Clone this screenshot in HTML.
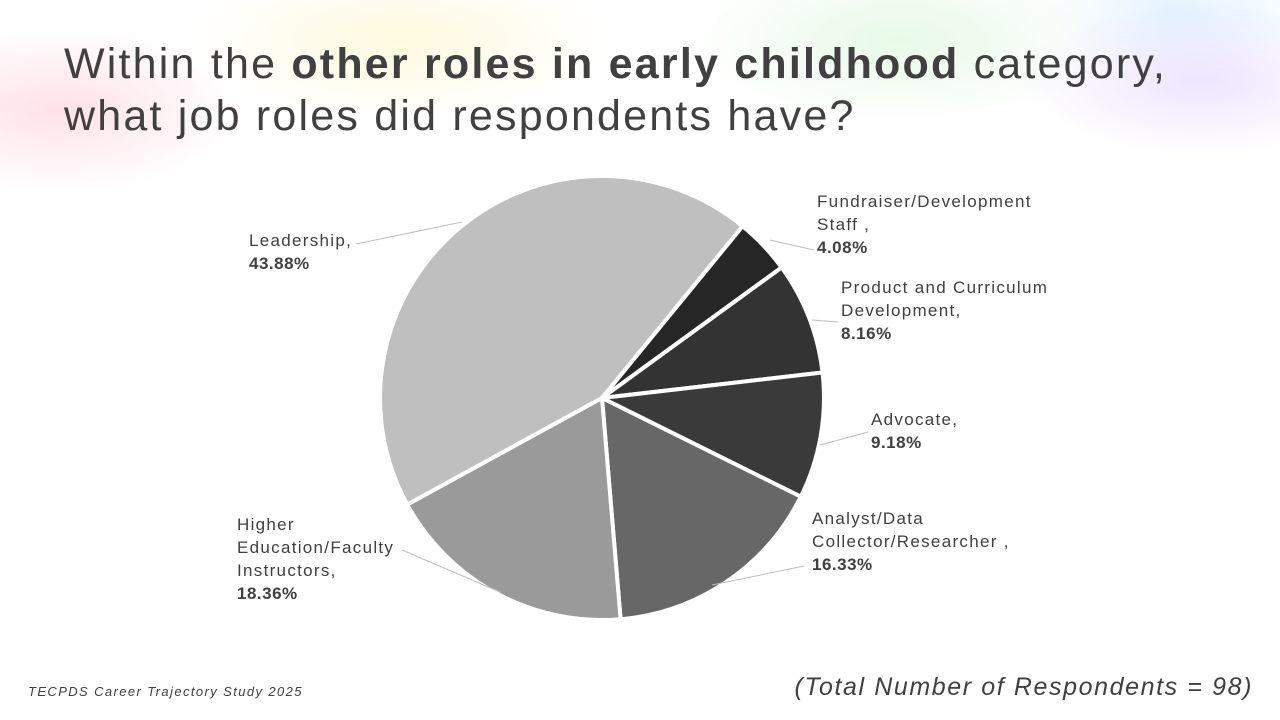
<!DOCTYPE html>
<html><head><meta charset="utf-8"><style>
html,body{margin:0;padding:0}
body{width:1280px;height:720px;position:relative;overflow:hidden;background:#fff;font-family:"Liberation Sans",sans-serif;color:#404040}
.bg{position:absolute;inset:0;background:
radial-gradient(ellipse 260px 120px at 60px 110px,rgba(255,200,215,.55),transparent 70%),
radial-gradient(ellipse 300px 110px at 400px 40px,rgba(255,245,200,.6),transparent 70%),
radial-gradient(ellipse 300px 120px at 900px 40px,rgba(215,245,215,.6),transparent 70%),
radial-gradient(ellipse 260px 110px at 1200px 80px,rgba(225,210,255,.6),transparent 70%),
radial-gradient(ellipse 200px 90px at 1180px 10px,rgba(200,230,255,.5),transparent 70%)}
h1{position:absolute;left:64px;top:38px;margin:0;font-size:43px;font-weight:normal;line-height:52px;color:#404040;letter-spacing:2.2px;white-space:nowrap}
.l{position:absolute;font-size:17px;line-height:23px;color:#404040;letter-spacing:1.3px;white-space:nowrap}
.l b{font-weight:bold;letter-spacing:0.5px}
</style></head><body><div class="bg"></div>
<h1>Within the <b>other roles in early childhood</b> category,<br>what job roles did respondents have?</h1>
<svg width="1280" height="720" style="position:absolute;left:0;top:0">
<g stroke="#fff" stroke-width="4" stroke-linejoin="round">
<path d="M602 398 L407.3 504.6 A222 222 0 0 1 742.6 226.2Z" fill="#bfbfbf"/>
<path d="M602 398 L742.6 226.2 A222 222 0 0 1 781.6 267.5Z" fill="#262626"/>
<path d="M602 398 L781.6 267.5 A222 222 0 0 1 822.5 372.5Z" fill="#333"/>
<path d="M602 398 L822.5 372.5 A222 222 0 0 1 800.8 496.7Z" fill="#3a3a3a"/>
<path d="M602 398 L800.8 496.7 A222 222 0 0 1 620.6 619.2Z" fill="#676767"/>
<path d="M602 398 L620.6 619.2 A222 222 0 0 1 407.3 504.6Z" fill="#9a9a9a"/>
</g>
<g stroke="#bfbfbf" stroke-width="1" fill="none">
<path d="M356 244 L462 222"/>
<path d="M814 250 L770 240"/>
<path d="M838 322 L812 320"/>
<path d="M868 432 L820 445"/>
<path d="M804 566 L712 585"/>
<path d="M402 550 L500 592"/>
</g>
</svg>
<div class="l" style="left:249px;top:229px">Leadership,<br><b>43.88%</b></div>
<div class="l" style="left:817px;top:190px">Fundraiser/Development<br>Staff ,<br><b>4.08%</b></div>
<div class="l" style="left:841px;top:276px">Product and Curriculum<br>Development,<br><b>8.16%</b></div>
<div class="l" style="left:871px;top:408px">Advocate,<br><b>9.18%</b></div>
<div class="l" style="left:812px;top:507px">Analyst/Data<br>Collector/Researcher ,<br><b>16.33%</b></div>
<div class="l" style="left:237px;top:513px">Higher<br>Education/Faculty<br>Instructors,<br><b>18.36%</b></div>
<div style="position:absolute;left:28px;top:684px;font-size:13px;font-style:italic;color:#404040;letter-spacing:1.4px;white-space:nowrap">TECPDS Career Trajectory Study 2025</div>
<div style="position:absolute;right:27px;top:673px;font-size:25px;font-style:italic;color:#404040;letter-spacing:1.6px;white-space:nowrap">(Total Number of Respondents = 98)</div>
</body></html>
